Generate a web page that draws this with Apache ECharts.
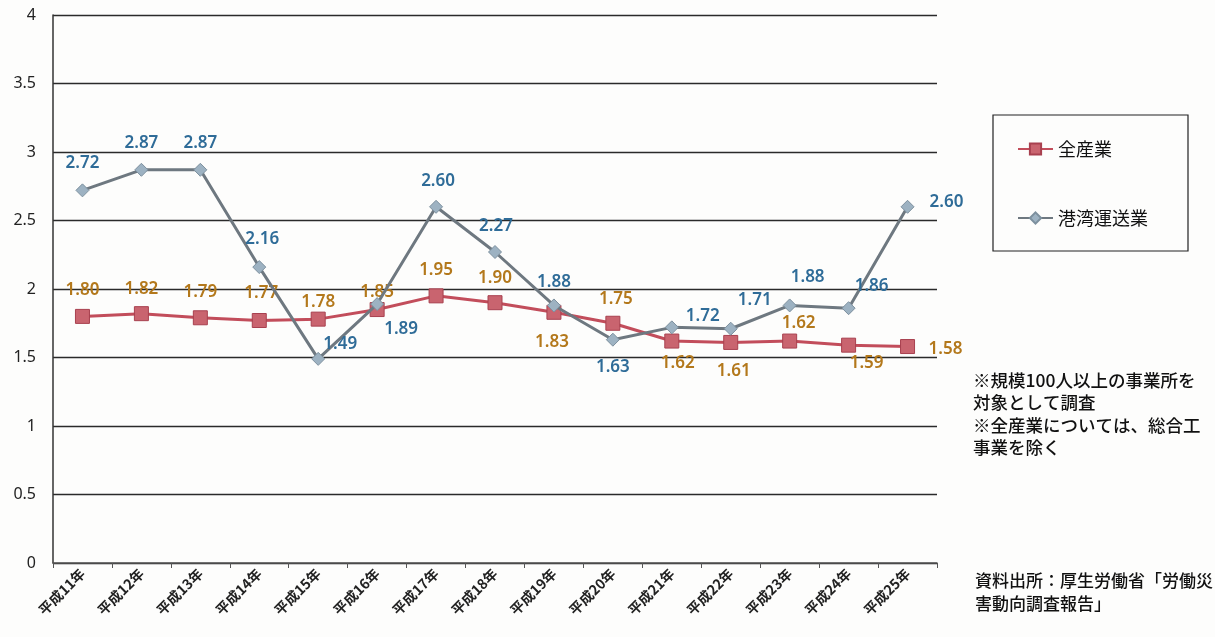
<!DOCTYPE html>
<html>
<head>
<meta charset="utf-8">
<script src="https://cdn.jsdelivr.net/npm/echarts@6/dist/echarts.min.js"></script>
<style>
  html, body { margin: 0; padding: 0; background: #fdfdfc; }
  #main { width: 1215px; height: 637px; }
</style>
</head>
<body>
<div id="main"></div>
<script>
// 年度
const years = ['平成11年', '平成12年', '平成13年', '平成14年', '平成15年', '平成16年', '平成17年', '平成18年',
  '平成19年', '平成20年', '平成21年', '平成22年', '平成23年', '平成24年', '平成25年'];
// 全産業
const allIndustry = [1.80, 1.82, 1.79, 1.77, 1.78, 1.85, 1.95, 1.90, 1.83, 1.75, 1.62, 1.61, 1.62, 1.59, 1.58];
// 港湾運送業
const portTransport = [2.72, 2.87, 2.87, 2.16, 1.49, 1.89, 2.60, 2.27, 1.88, 1.63, 1.72, 1.71, 1.88, 1.86, 2.60];

// ラベルの位置 (点からのずれ)
const allLabelShift = [[0, -26], [0, -25], [0, -26], [2, -27], [0, -17], [0, -17], [0, -26], [0, -25],
  [-2, 30], [3, -24], [6, 22], [3, 29], [9, -18], [18, 18], [38, 3]];
const portLabelShift = [[0, -27], [0, -27], [0, -27], [3, -28], [22, -15], [24, 25], [2, -26], [1, -26],
  [0, -23], [0, 27], [31, -11], [24, -29], [18, -28], [23, -22], [39, -5]];

const fontJP = '"Noto Sans CJK JP", "Noto Sans", sans-serif';

function withLabels(values, shifts) {
  return values.map((v, i) => ({
    value: v,
    label: { position: 'inside', offset: shifts[i] },
  }));
}

var myChart = echarts.init(document.getElementById('main'));
const option = {
  backgroundColor: '#fdfdfc',
  textStyle: { fontFamily: fontJP },
  grid: {
    left: 53,
    right: 278,
    top: 15,
    bottom: 74,
  },
  legend: {
    orient: 'vertical',
    left: 993,
    top: 115,
    padding: [25, 40, 24, 24],
    itemGap: 51,
    itemWidth: 35,
    itemHeight: 14,
    borderColor: '#222',
    borderWidth: 1.2,
    textStyle: { fontSize: 18, color: '#111', fontFamily: fontJP },
    data: ['全産業', '港湾運送業'],
  },
  xAxis: {
    type: 'category',
    data: years,
    axisLine: { lineStyle: { color: '#555', width: 1.5 } },
    axisTick: { show: true, length: 5, lineStyle: { color: '#555' } },
    axisLabel: {
      rotate: 45,
      fontSize: 14,
      fontWeight: 'bold',
      color: '#222',
      margin: 8,
      fontFamily: fontJP,
    },
  },
  yAxis: {
    type: 'value',
    min: 0,
    max: 4,
    interval: 0.5,
    axisLine: { show: true, lineStyle: { color: '#333', width: 1.5 } },
    axisTick: { show: false },
    axisLabel: {
      fontSize: 16,
      color: '#222',
      margin: 17,
      fontFamily: '"Noto Sans", sans-serif',
    },
    splitLine: { lineStyle: { color: '#2a2a2a', width: 1.3 } },
  },
  series: [
    {
      name: '全産業',
      type: 'line',
      data: withLabels(allIndustry, allLabelShift),
      symbol: 'rect',
      symbolSize: 14,
      lineStyle: { color: '#c24d5b', width: 3 },
      itemStyle: { color: '#c9646f', borderColor: '#a8404f', borderWidth: 1 },
      label: {
        show: true,
        fontSize: 17,
        fontWeight: 600,
        color: '#b3781b',
        fontFamily: '"Noto Sans", sans-serif',
        formatter: p => p.value.toFixed(2),
      },
      z: 2,
    },
    {
      name: '港湾運送業',
      type: 'line',
      data: withLabels(portTransport, portLabelShift),
      symbol: 'diamond',
      symbolSize: 13,
      lineStyle: { color: '#6e7880', width: 3 },
      itemStyle: { color: '#9db2c2', borderColor: '#7d909e', borderWidth: 1 },
      label: {
        show: true,
        fontSize: 17,
        fontWeight: 600,
        color: '#2f6c98',
        fontFamily: '"Noto Sans", sans-serif',
        formatter: p => p.value.toFixed(2),
      },
      z: 3,
    },
  ],
  graphic: [
    {
      type: 'text',
      left: 973,
      top: 369,
      style: {
        text: '※規模100人以上の事業所を\n対象として調査\n※全産業については、総合工\n事業を除く',
        fontSize: 17.5,
        fontWeight: 500,
        lineHeight: 22.5,
        fill: '#111',
        fontFamily: fontJP,
      },
    },
    {
      type: 'text',
      left: 975,
      top: 569,
      style: {
        text: '資料出所：厚生労働省「労働災\n害動向調査報告」',
        fontSize: 17,
        fontWeight: 500,
        lineHeight: 23,
        fill: '#111',
        fontFamily: fontJP,
      },
    },
  ],
};
myChart.setOption(option);
</script>
</body>
</html>
